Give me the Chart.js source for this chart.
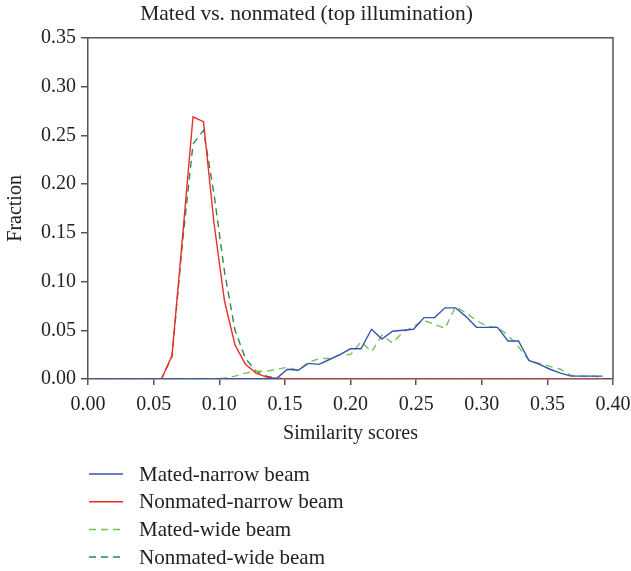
<!DOCTYPE html>
<html>
<head>
<meta charset="utf-8">
<script src="https://cdn.jsdelivr.net/npm/chart.js@4.4.1/dist/chart.umd.min.js"></script>
<style>
  body { margin: 0; background: #fff; }
</style>
</head>
<body>
<canvas id="chart" width="631" height="571"></canvas>
<script>
// similarity score bins (x) and the four fraction curves
const scores = [0.000, 0.008, 0.016, 0.024, 0.032, 0.040, 0.048, 0.056, 0.064, 0.072,
                0.080, 0.088, 0.096, 0.104, 0.112, 0.120, 0.128, 0.136, 0.144, 0.152,
                0.160, 0.168, 0.176, 0.184, 0.192, 0.200, 0.208, 0.216, 0.224, 0.232,
                0.240, 0.248, 0.256, 0.264, 0.272, 0.280, 0.288, 0.296, 0.304, 0.312,
                0.320, 0.328, 0.336, 0.344, 0.352, 0.360, 0.368, 0.376, 0.384, 0.392];

const matedNarrow = [0, 0, 0, 0, 0, 0, 0, 0, 0, 0,
                     0, 0, 0, 0, 0, 0, 0, 0, 0.001, 0.010,
                     0.009, 0.016, 0.015, 0.020, 0.025, 0.031, 0.031, 0.051, 0.041, 0.049,
                     0.050, 0.051, 0.063, 0.063, 0.073, 0.073, 0.064, 0.053, 0.053, 0.053,
                     0.039, 0.039, 0.019, 0.015, 0.010, 0.006, 0.003, 0.003, 0.003, 0.003];

const nonmatedNarrow = [0, 0, 0, 0, 0, 0, 0, 0, 0.024, 0.145,
                        0.269, 0.264, 0.160, 0.080, 0.035, 0.015, 0.006, 0.002, 0, 0,
                        0, 0, 0, 0, 0, 0, 0, 0, 0, 0,
                        0, 0, 0, 0, 0, 0, 0, 0, 0, 0,
                        0, 0, 0, 0, 0, 0, 0, 0, 0, 0];

const matedWide = [0, 0, 0, 0, 0, 0, 0, 0, 0, 0,
                   0, 0, 0, 0.001, 0.003, 0.006, 0.008, 0.008, 0.010, 0.012,
                   0.009, 0.017, 0.021, 0.021, 0.025, 0.025, 0.038, 0.028, 0.045, 0.037,
                   0.048, 0.054, 0.060, 0.056, 0.052, 0.074, 0.068, 0.060, 0.054, 0.053,
                   0.045, 0.033, 0.019, 0.016, 0.013, 0.010, 0.004, 0.003, 0.003, 0.002];

const nonmatedWide = [0, 0, 0, 0, 0, 0, 0, 0, 0.023, 0.140,
                      0.241, 0.255, 0.190, 0.110, 0.050, 0.021, 0.008, 0.003, 0.001, 0,
                      0, 0, 0, 0, 0, 0, 0, 0, 0, 0,
                      0, 0, 0, 0, 0, 0, 0, 0, 0, 0,
                      0, 0, 0, 0, 0, 0, 0, 0, 0, 0];

const seriesNames = ["Mated-narrow beam", "Nonmated-narrow beam", "Mated-wide beam", "Nonmated-wide beam"];
const xTicks = [0, 0.05, 0.10, 0.15, 0.20, 0.25, 0.30, 0.35, 0.40];
const yTicks = [0, 0.05, 0.10, 0.15, 0.20, 0.25, 0.30, 0.35];

const serif = "'Liberation Serif', 'DejaVu Serif', serif";
const textColor = "#222";
const axisColor = "#555";

function toPoints(values){
    return values.map((v, i) => ({x: scores[i], y: v}));
}

// top and right edges of the frame
const frame = {
    id: "frame",
    afterDraw(chart){
        const {ctx, chartArea: a} = chart;
        ctx.save();
        ctx.strokeStyle = axisColor;
        ctx.lineWidth = 1.5;
        ctx.beginPath();
        ctx.moveTo(a.left, a.top);
        ctx.lineTo(a.right, a.top);
        ctx.lineTo(a.right, a.bottom);
        ctx.stroke();
        ctx.restore();
    }
};

// stacked legend under the plot
const stackedLegend = {
    id: "stackedLegend",
    afterDraw(chart){
        const ctx = chart.ctx;
        ctx.save();
        chart.data.datasets.forEach((ds, i) => {
            const y = 474 + i * 27.7;
            ctx.strokeStyle = ds.borderColor;
            ctx.lineWidth = 1.5;
            ctx.setLineDash(ds.borderDash || []);
            ctx.beginPath();
            ctx.moveTo(89, y);
            ctx.lineTo(123, y);
            ctx.stroke();
            ctx.setLineDash([]);
            ctx.fillStyle = textColor;
            ctx.font = "21px " + serif;
            ctx.textBaseline = "middle";
            ctx.fillText(ds.label, 139, y + 1);
        });
        ctx.restore();
    }
};

const ctx = document.querySelector("#chart").getContext("2d");
new Chart(ctx, {
    type: "line",
    data: {
        datasets: [
            {label: seriesNames[0], data: toPoints(matedNarrow), borderColor: "#3653b4"},
            {label: seriesNames[1], data: toPoints(nonmatedNarrow), borderColor: "#ef2b2b"},
            {label: seriesNames[2], data: toPoints(matedWide), borderColor: "#73c450", borderDash: [7, 5]},
            {label: seriesNames[3], data: toPoints(nonmatedWide), borderColor: "#2b8a50", borderDash: [7, 5]}
        ]
    },
    options: {
        responsive: false,
        animation: false,
        layout: {padding: {left: 0, right: 18, top: 0, bottom: 116}},
        elements: {
            line: {borderWidth: 1.4, tension: 0, fill: false},
            point: {radius: 0}
        },
        plugins: {
            legend: {display: false},
            tooltip: {enabled: false},
            title: {
                display: true,
                text: "Mated vs. nonmated (top illumination)",
                color: textColor,
                font: {family: serif, size: 21.5, weight: "normal"},
                padding: {top: 1, bottom: 11}
            }
        },
        scales: {
            x: {
                type: "linear",
                min: 0,
                max: 0.4,
                afterBuildTicks: s => { s.ticks = xTicks.map(v => ({value: v})); },
                afterFit: s => { s.height = 76; s.paddingLeft = 0; s.paddingRight = 0; },
                grid: {drawOnChartArea: false, drawTicks: true, tickLength: 6, color: axisColor, lineWidth: 1.5},
                border: {display: true, color: axisColor, width: 1.5},
                ticks: {
                    color: textColor,
                    font: {family: serif, size: 20},
                    padding: 8,
                    maxRotation: 0,
                    callback: v => v.toFixed(2)
                },
                title: {
                    display: true,
                    text: "Similarity scores",
                    color: textColor,
                    font: {family: serif, size: 20},
                    padding: {top: 0, bottom: 9}
                }
            },
            y: {
                min: 0,
                max: 0.35,
                afterBuildTicks: s => { s.ticks = yTicks.map(v => ({value: v})); },
                afterFit: s => { s.width = 88; },
                grid: {drawOnChartArea: false, drawTicks: true, tickLength: 7, color: axisColor, lineWidth: 1.5},
                border: {display: true, color: axisColor, width: 1.5},
                ticks: {
                    color: textColor,
                    font: {family: serif, size: 20},
                    padding: 5,
                    callback: v => v.toFixed(2)
                },
                title: {
                    display: true,
                    text: "Fraction",
                    color: textColor,
                    font: {family: serif, size: 20},
                    padding: {top: 4, bottom: 0}
                }
            }
        }
    },
    plugins: [frame, stackedLegend]
});
</script>
</body>
</html>
